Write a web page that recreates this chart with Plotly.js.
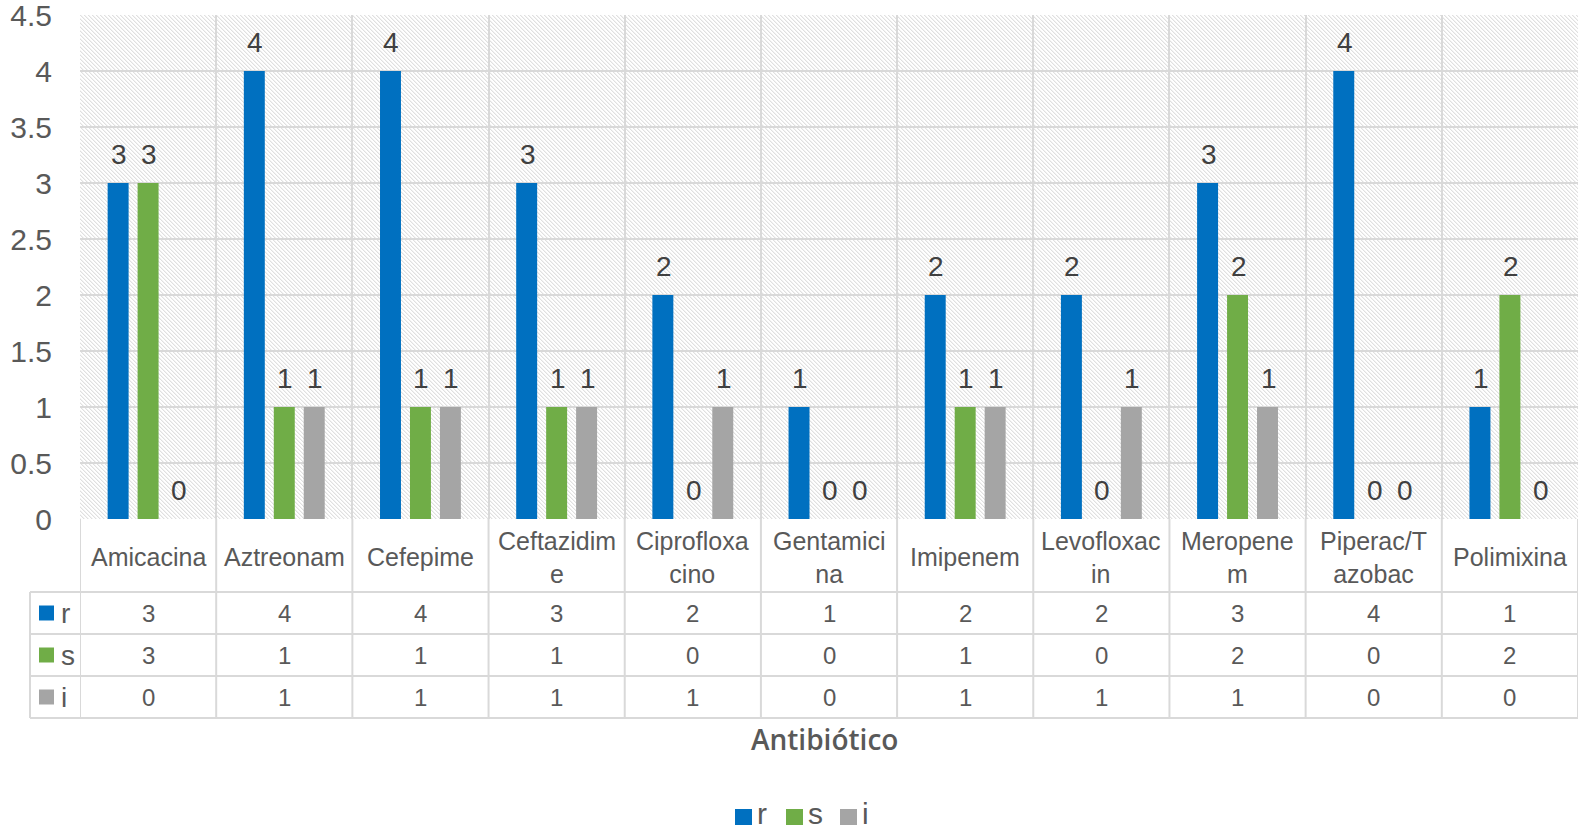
<!DOCTYPE html>
<html><head><meta charset="utf-8">
<script src="https://cdn.plot.ly/plotly-3.0.1.min.js"></script>
<style>html,body{margin:0;padding:0;background:#fff;overflow:hidden}</style>
</head><body><div id="chart" style="width:1578px;height:831px"></div>
<script>
// ---- data ----
const categories = ['Amicacina','Aztreonam','Cefepime','Ceftazidime','Ciprofloxacino','Gentamicina','Imipenem','Levofloxacin','Meropenem','Piperac/Tazobac','Polimixina'];
const categoryLabels = ['Amicacina','Aztreonam','Cefepime','Ceftazidim<br>e','Ciprofloxa<br>cino','Gentamici<br>na','Imipenem','Levofloxac<br>in','Meropene<br>m','Piperac/T<br>azobac','Polimixina'];
const seriesNames = ['r','s','i'];
const rValues = [3,4,4,3,2,1,2,2,3,4,1];
const sValues = [3,1,1,1,0,0,1,0,2,0,2];
const iValues = [0,1,1,1,1,0,1,1,1,0,0];
const yTickVals = [0,0.5,1,1.5,2,2.5,3,3.5,4,4.5];
const yTickText = ['0','0.5','1','1.5','2','2.5','3','3.5','4','4.5'];
const axisTitle = 'Antibiótico';

// ---- styling ----
const seriesValues = [rValues, sValues, iValues];
const seriesColors = ['#0070C0','#70AD47','#A5A5A5'];
const FONT = '"Liberation Sans", Arial, sans-serif';
const TXT = '#595959';
const GRID = '#d9d9d9';
const W = 1578, H = 831, L = 80, T = 15, B = 312, R = 0;
const plotW = W - L - R, plotH = H - T - B;
const px = x => (x - L) / plotW;
const py = y => (H - B - y) / plotH;
const barPitch = 30; // px between bar centres within a group

// hatch background
const svg = `<svg xmlns="http://www.w3.org/2000/svg" width="${plotW}" height="${plotH}"><defs><pattern id="p" width="4" height="4" patternUnits="userSpaceOnUse"><rect x="0" y="0" width="1" height="1" fill="#e0e0e0"/><rect x="1" y="1" width="1" height="1" fill="#e0e0e0"/><rect x="2" y="2" width="1" height="1" fill="#e0e0e0"/><rect x="3" y="3" width="1" height="1" fill="#e0e0e0"/><rect x="1" y="0" width="1" height="1" fill="#f2f2f2"/><rect x="2" y="1" width="1" height="1" fill="#f2f2f2"/><rect x="3" y="2" width="1" height="1" fill="#f2f2f2"/><rect x="0" y="3" width="1" height="1" fill="#f2f2f2"/></pattern></defs><rect width="100%" height="100%" fill="url(#p)"/></svg>`;
const svgUri = 'data:image/svg+xml;charset=utf-8,' + encodeURIComponent(svg);

const traces = seriesNames.map((name, k) => ({
  type: 'bar', name: name, x: categories, y: seriesValues[k],
  marker: {color: seriesColors[k]},
  showlegend: false, hoverinfo: 'skip'
}));

const shapes = [];
const annotations = [];
// data labels (placed through the axis scales)
seriesNames.forEach((name, k) => {
  seriesValues[k].forEach((v, i) => {
    annotations.push({xref:'x', yref:'y', x: categories[i], y: v, text: String(v), showarrow:false,
      xanchor:'center', yanchor:'middle', xshift: (k - 1) * barPitch + 1, yshift: 29,
      font:{family: FONT, size: 28, color: '#404040'}});
  });
});
const lineStyle = {color: GRID, width: 2};
// table horizontal lines
const rowLines = [592, 634, 676, 718];
rowLines.forEach(y => shapes.push({type:'line', xref:'paper', yref:'paper', x0: px(30), x1: 1, y0: py(y), y1: py(y), line: lineStyle}));
// table left border
shapes.push({type:'line', xref:'paper', yref:'paper', x0: px(30), x1: px(30), y0: py(592), y1: py(718), line: lineStyle});
// column boundaries
for (let i = 0; i <= categories.length; i++) {
  shapes.push({type:'line', xref:'x', yref:'paper', x0: i - 0.5, x1: i - 0.5, y0: py(519), y1: py(718), line: lineStyle});
}
// category header labels
categories.forEach((c, i) => {
  annotations.push({xref:'x', yref:'paper', x: c, y: py(557), text: categoryLabels[i], showarrow: false,
    xanchor:'center', yanchor:'middle', font:{family: FONT, size: 25, color: TXT}});
});
// rows
const rowCenters = [613, 655, 697];
seriesNames.forEach((name, k) => {
  const yc = rowCenters[k];
  shapes.push({type:'rect', xref:'paper', yref:'paper', x0: px(39), x1: px(54), y0: py(yc - 7.5), y1: py(yc + 7.5), fillcolor: seriesColors[k], line:{width:0}});
  annotations.push({xref:'paper', yref:'paper', x: px(59), y: py(yc), text: name, showarrow:false, xanchor:'left', yanchor:'middle', font:{family: FONT, size: 28, color: TXT}});
  seriesValues[k].forEach((v, i) => {
    annotations.push({xref:'x', yref:'paper', x: categories[i], y: py(yc), text: String(v), showarrow:false, xanchor:'center', yanchor:'middle', font:{family: FONT, size: 24, color: TXT}});
  });
});
// axis title
annotations.push({xref:'paper', yref:'paper', x: px(824), y: py(739), text: axisTitle, showarrow:false, xanchor:'center', yanchor:'middle', font:{family: '"Open Sans", sans-serif', size: 28, color: TXT, weight: 600}});
// bottom legend
const legX = [735, 786, 840];
seriesNames.forEach((name, k) => {
  shapes.push({type:'rect', xref:'paper', yref:'paper', x0: px(legX[k]), x1: px(legX[k] + 17), y0: py(825), y1: py(809), fillcolor: seriesColors[k], line:{width:0}});
  annotations.push({xref:'paper', yref:'paper', x: px(legX[k] + 21), y: py(831), text: name, showarrow:false, xanchor:'left', yanchor:'bottom', borderpad: 0, font:{family: FONT, size: 30, color: TXT}});
});

const layout = {
  width: W, height: H,
  margin: {l: L, r: R, t: T, b: B, pad: 0},
  paper_bgcolor: '#ffffff', plot_bgcolor: 'rgba(0,0,0,0)',
  barmode: 'group', bargap: 0.34, bargroupgap: 0.3,
  font: {family: FONT, color: TXT},
  xaxis: {type: 'category', range: [-0.5, categories.length - 0.5], tickson: 'boundaries', showgrid: true,
    gridcolor: GRID, gridwidth: 2, showticklabels: false, ticks: '', zeroline: false, showline: false, fixedrange: true},
  yaxis: {range: [0, 4.5], tickvals: yTickVals, ticktext: yTickText, showgrid: true, gridcolor: GRID, gridwidth: 2,
    zeroline: false, showline: false, ticks: '', ticklabelstandoff: 27, ticklabeloverflow: 'allow',
    tickfont: {family: FONT, size: 30, color: TXT}, fixedrange: true},
  images: [{source: svgUri, xref: 'paper', yref: 'paper', x: 0, y: 1, sizex: 1, sizey: 1, sizing: 'stretch', layer: 'below', xanchor: 'left', yanchor: 'top'}],
  shapes: shapes,
  annotations: annotations,
  showlegend: false
};

Plotly.newPlot('chart', traces, layout, {displayModeBar: false, staticPlot: true});
</script></body></html>
